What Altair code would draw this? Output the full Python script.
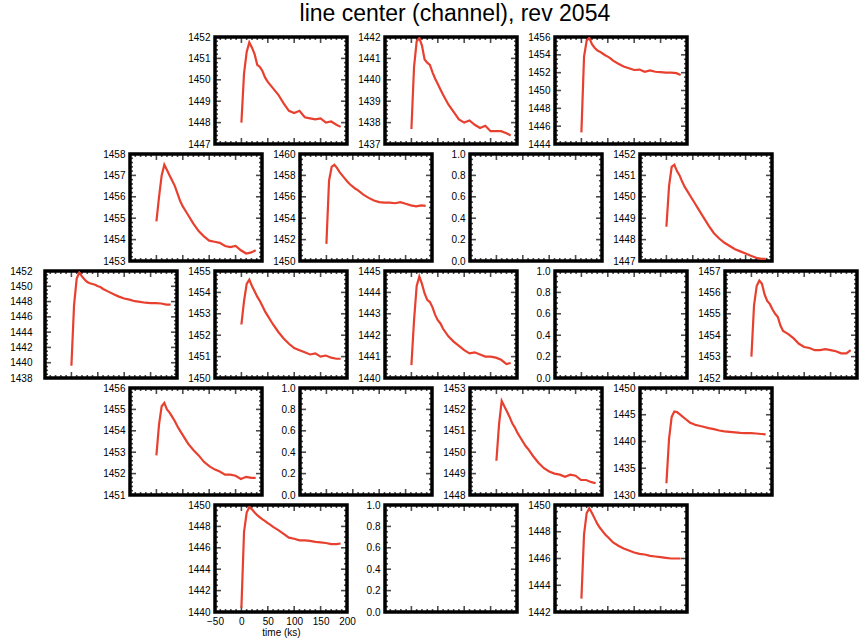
import altair as alt
import pandas as pd

# ---------------- data ----------------
TIME = [0, 5, 10, 15, 20, 25, 30, 35, 40, 45, 50, 55, 60, 70, 80, 90, 100,
        110, 120, 130, 140, 150, 160, 170, 180, 188]

LINE_A = [1448.0, 1450.3, 1451.3, 1451.75, 1451.5, 1451.2, 1450.7, 1450.6, 1450.4, 1450.1, 1449.9, 1449.75, 1449.6,
          1449.3, 1448.9, 1448.55, 1448.45, 1448.55, 1448.25, 1448.2, 1448.15, 1448.2, 1448.0, 1448.05, 1447.9, 1447.8]
LINE_B = [1437.7, 1440.6, 1441.8, 1441.95, 1441.6, 1440.95, 1440.8, 1440.7, 1440.35, 1440.05, 1439.8, 1439.55, 1439.3,
          1438.85, 1438.5, 1438.15, 1438.0, 1438.1, 1437.9, 1437.75, 1437.85, 1437.6, 1437.6, 1437.6, 1437.5, 1437.4]
LINE_C = [1445.3, 1453.8, 1455.6, 1455.9, 1455.2, 1454.8, 1454.5, 1454.35, 1454.15, 1453.95, 1453.8, 1453.6, 1453.35,
          1453.0, 1452.7, 1452.5, 1452.3, 1452.35, 1452.1, 1452.25, 1452.1, 1452.05, 1452.0, 1452.0, 1451.95, 1451.75]
LINE_D = [1454.85, 1456.0, 1457.0, 1457.5, 1457.25, 1457.0, 1456.75, 1456.5, 1456.15, 1455.8, 1455.55, 1455.35, 1455.15,
          1454.75, 1454.4, 1454.15, 1453.95, 1453.9, 1453.85, 1453.7, 1453.65, 1453.7, 1453.5, 1453.35, 1453.4, 1453.5]
LINE_E = [1451.6, 1457.5, 1458.8, 1459.0, 1458.7, 1458.3, 1458.0, 1457.7, 1457.4, 1457.15, 1456.95, 1456.75, 1456.6,
          1456.2, 1455.9, 1455.65, 1455.5, 1455.45, 1455.45, 1455.4, 1455.5, 1455.35, 1455.2, 1455.1, 1455.2, 1455.15]
LINE_G = [1448.6, 1450.5, 1451.4, 1451.5, 1451.2, 1451.0, 1450.7, 1450.45, 1450.25, 1450.05, 1449.85, 1449.65, 1449.45,
          1449.05, 1448.65, 1448.3, 1448.05, 1447.85, 1447.7, 1447.55, 1447.45, 1447.35, 1447.25, 1447.15, 1447.1, 1447.1]
LINE_H = [1439.6, 1447.5, 1451.0, 1451.8, 1451.3, 1450.9, 1450.55, 1450.4, 1450.3, 1450.2, 1450.0, 1449.9, 1449.65,
          1449.3, 1448.95, 1448.65, 1448.4, 1448.25, 1448.05, 1447.95, 1447.85, 1447.8, 1447.8, 1447.75, 1447.6, 1447.6]
LINE_I = [1452.5, 1453.6, 1454.4, 1454.6, 1454.3, 1454.05, 1453.8, 1453.6, 1453.35, 1453.1, 1452.9, 1452.7, 1452.5,
          1452.15, 1451.85, 1451.6, 1451.4, 1451.3, 1451.2, 1451.1, 1451.15, 1451.0, 1451.05, 1450.95, 1450.9, 1450.9]
LINE_J = [1440.6, 1442.7, 1444.3, 1444.75, 1444.4, 1443.95, 1443.65, 1443.55, 1443.3, 1442.95, 1442.7, 1442.55, 1442.3,
          1441.95, 1441.7, 1441.5, 1441.3, 1441.15, 1441.2, 1441.1, 1441.0, 1441.0, 1440.95, 1440.85, 1440.65, 1440.7]
LINE_L = [1453.0, 1455.4, 1456.3, 1456.55, 1456.4, 1455.9, 1455.6, 1455.45, 1455.2, 1455.0, 1454.85, 1454.45, 1454.2,
          1454.05, 1453.85, 1453.6, 1453.45, 1453.4, 1453.3, 1453.3, 1453.35, 1453.3, 1453.25, 1453.15, 1453.15, 1453.3]
LINE_M = [1452.85, 1454.3, 1455.15, 1455.3, 1455.0, 1454.85, 1454.65, 1454.45, 1454.2, 1454.0, 1453.8, 1453.6, 1453.4,
          1453.1, 1452.85, 1452.55, 1452.35, 1452.2, 1452.1, 1451.95, 1451.95, 1451.9, 1451.75, 1451.85, 1451.8, 1451.8]
LINE_O = [1449.6, 1451.3, 1452.4, 1452.15, 1451.9, 1451.65, 1451.35, 1451.15, 1450.9, 1450.7, 1450.5, 1450.3, 1450.15,
          1449.8, 1449.5, 1449.25, 1449.1, 1449.0, 1448.95, 1448.85, 1448.95, 1448.9, 1448.7, 1448.7, 1448.6, 1448.55]
LINE_P = [1432.2, 1440.5, 1444.6, 1445.6, 1445.5, 1445.1, 1444.7, 1444.3, 1443.9, 1443.5, 1443.3, 1443.1, 1443.0,
          1442.75, 1442.5, 1442.3, 1442.05, 1441.9, 1441.8, 1441.7, 1441.6, 1441.55, 1441.55, 1441.5, 1441.4, 1441.35]
LINE_Q = [1440.4, 1447.5, 1449.3, 1449.8, 1449.6, 1449.3, 1449.05, 1448.85, 1448.65, 1448.5, 1448.3, 1448.15, 1447.95,
          1447.65, 1447.3, 1446.95, 1446.85, 1446.7, 1446.7, 1446.65, 1446.55, 1446.5, 1446.45, 1446.35, 1446.35, 1446.4]
LINE_S = [1443.0, 1447.8, 1449.4, 1449.75, 1449.4, 1449.0, 1448.6, 1448.3, 1448.05, 1447.8, 1447.6, 1447.4, 1447.2,
          1446.95, 1446.75, 1446.6, 1446.45, 1446.35, 1446.3, 1446.2, 1446.15, 1446.1, 1446.05, 1446.0, 1446.0, 1446.0]

# y tick labels of each panel
EMPTY_TICKS = [0.0, 0.2, 0.4, 0.6, 0.8, 1.0]
Y_TICKS = {
    "A": [1447, 1448, 1449, 1450, 1451, 1452],
    "B": [1437, 1438, 1439, 1440, 1441, 1442],
    "C": [1444, 1446, 1448, 1450, 1452, 1454, 1456],
    "D": [1453, 1454, 1455, 1456, 1457, 1458],
    "E": [1450, 1452, 1454, 1456, 1458, 1460],
    "F": EMPTY_TICKS,
    "G": [1447, 1448, 1449, 1450, 1451, 1452],
    "H": [1438, 1440, 1442, 1444, 1446, 1448, 1450, 1452],
    "I": [1450, 1451, 1452, 1453, 1454, 1455],
    "J": [1440, 1441, 1442, 1443, 1444, 1445],
    "K": EMPTY_TICKS,
    "L": [1452, 1453, 1454, 1455, 1456, 1457],
    "M": [1451, 1452, 1453, 1454, 1455, 1456],
    "N": EMPTY_TICKS,
    "O": [1448, 1449, 1450, 1451, 1452, 1453],
    "P": [1430, 1435, 1440, 1445, 1450],
    "Q": [1440, 1442, 1444, 1446, 1448, 1450],
    "R": EMPTY_TICKS,
    "S": [1442, 1444, 1446, 1448, 1450],
}
LINES = {"A": LINE_A, "B": LINE_B, "C": LINE_C, "D": LINE_D, "E": LINE_E, "G": LINE_G,
         "H": LINE_H, "I": LINE_I, "J": LINE_J, "L": LINE_L, "M": LINE_M, "O": LINE_O,
         "P": LINE_P, "Q": LINE_Q, "S": LINE_S}

X_TICKS = [-50, 0, 50, 100, 150, 200]
X_TITLE = "time (ks)"
TITLE = "line center (channel), rev 2054"

ROWS = [["A", "B", "C"],
        ["D", "E", "F", "G"],
        ["H", "I", "J", "K", "L"],
        ["M", "N", "O", "P"],
        ["Q", "R", "S"]]

# ---------------- styling / layout ----------------
W, H = 132, 107
COL_GAP = 38
ROW_PITCH = 117
ROW_INDENT = [172, 87, 2, 87, 172]
RED = "#e8402f"
FONT = "Liberation Sans"


def minor_split(step):
    if abs(step - 2) < 1e-9 or abs(step - 0.2) < 1e-9:
        return 4
    return 5


def panel(key, show_x=False, label_pad=5):
    yt = Y_TICKS[key]
    lo, hi = yt[0], yt[-1]
    step = yt[1] - yt[0]
    xs = alt.Scale(domain=[X_TICKS[0], X_TICKS[-1]], nice=False, zero=False)
    ys = alt.Scale(domain=[lo, hi], nice=False, zero=False)

    # inward tick marks along the frame
    nm = minor_split(step)
    hrows = []
    for i in range(len(yt) - 1):
        for k in range(nm):
            if i == 0 and k == 0:
                continue
            v = yt[i] + step * k / nm
            size = 12 if k == 0 else 6
            for xe in (X_TICKS[0], X_TICKS[-1]):
                hrows.append({"x": xe, "y": v, "s": size})
    vrows = []
    for i in range(len(X_TICKS) - 1):
        for k in range(5):
            if i == 0 and k == 0:
                continue
            v = X_TICKS[i] + 10 * k
            size = 12 if k == 0 else 6
            for ye in (lo, hi):
                vrows.append({"x": v, "y": ye, "s": size})

    fmt = ".1f" if hi <= 1 else "d"
    yaxis = alt.Axis(values=yt, format=fmt, title=None, ticks=False, tickSize=0, domain=False,
                     grid=False, labelPadding=label_pad, labelFontSize=10, labelFont=FONT,
                     labelColor="black", labelOverlap=False, labelFlush=False)
    if show_x:
        xaxis = alt.Axis(values=X_TICKS, title=X_TITLE, ticks=False, tickSize=0, domain=False,
                         grid=False, labelPadding=4, labelFontSize=10, labelFont=FONT,
                         labelColor="black", labelFlush=False, labelOverlap=False,
                         titleFont=FONT, titleFontSize=10, titleFontWeight="normal",
                         titleColor="black", titlePadding=1)
    else:
        xaxis = None

    hticks = alt.Chart(pd.DataFrame(hrows)).mark_tick(
        orient="horizontal", thickness=1.6, color="black", clip=True
    ).encode(
        x=alt.X("x:Q", scale=xs, axis=xaxis),
        y=alt.Y("y:Q", scale=ys, axis=yaxis),
        size=alt.Size("s:Q", scale=None, legend=None),
    )
    vticks = alt.Chart(pd.DataFrame(vrows)).mark_tick(
        orient="vertical", thickness=1.6, color="black", clip=True
    ).encode(
        x=alt.X("x:Q", scale=xs, axis=xaxis),
        y=alt.Y("y:Q", scale=ys, axis=yaxis),
        size=alt.Size("s:Q", scale=None, legend=None),
    )
    layers = [hticks, vticks]
    if key in LINES:
        df = pd.DataFrame({"x": TIME, "y": LINES[key]})
        line = alt.Chart(df).mark_line(color=RED, strokeWidth=2.2, clip=True).encode(
            x=alt.X("x:Q", scale=xs, axis=xaxis),
            y=alt.Y("y:Q", scale=ys, axis=yaxis),
        )
        layers.append(line)
    return alt.layer(*layers).properties(
        width=W, height=H,
        view=alt.ViewBackground(stroke="black", strokeWidth=3.5),
    )


def spacer(w):
    return alt.Chart(pd.DataFrame({"a": [0]})).mark_point(opacity=0, size=1).encode(
        x=alt.X("a:Q", axis=None, scale=alt.Scale(domain=[-1, 1])),
        y=alt.Y("a:Q", axis=None, scale=alt.Scale(domain=[-1, 1])),
    ).properties(width=w, height=H, view=alt.ViewBackground(strokeOpacity=0, strokeWidth=0))


row_charts = []
for r, row in enumerate(ROWS):
    cells = [spacer(ROW_INDENT[r])]
    for key in row:
        cells.append(panel(key, show_x=(key == "Q"), label_pad=(13 if key == "H" else 5)))
    row_charts.append(alt.hconcat(*cells, spacing=COL_GAP, bounds="flush"))

# rows are nested groups; with flush bounds they are stacked exactly ROW_PITCH apart
chart = alt.vconcat(
    *row_charts,
    spacing=ROW_PITCH,
    bounds="flush",
    title=alt.TitleParams(TITLE, fontSize=23, font=FONT, fontWeight="normal", color="black",
                          anchor="middle", dx=23, offset=4),
).properties(
    padding={"left": 5, "top": 3, "right": 0, "bottom": 0},
    background="white",
).configure_view(strokeWidth=0)

chart.save("out.html", embed_options={"renderer": "svg", "actions": False})
